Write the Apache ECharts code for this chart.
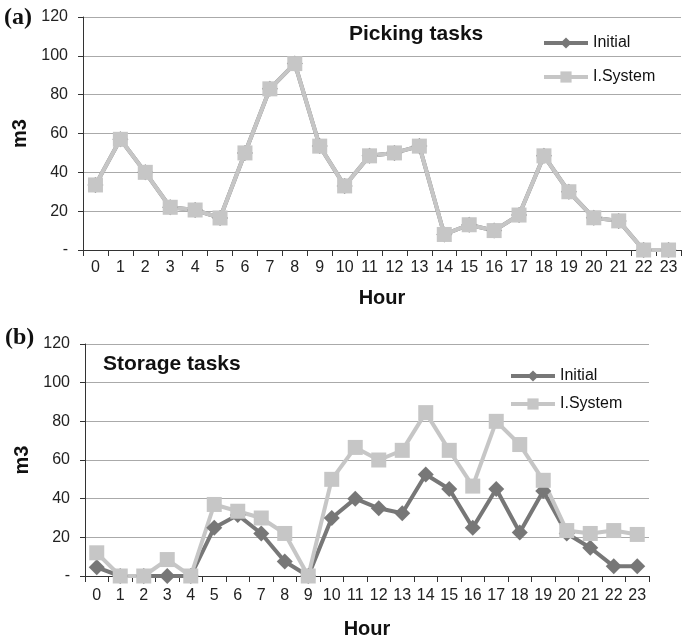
<!DOCTYPE html>
<html>
<head>
<meta charset="utf-8">
<script src="https://cdn.jsdelivr.net/npm/echarts@6/dist/echarts.min.js"></script>
<style>
  html, body { margin: 0; padding: 0; background: #fff; }
  #chart { width: 682px; height: 641px; }
</style>
</head>
<body>
<div id="chart"></div>
<script>
const hours = ['0','1','2','3','4','5','6','7','8','9','10','11','12','13','14','15','16','17','18','19','20','21','22','23'];

// (a) picking tasks - both series coincide
const pickInitial = [33.5, 57, 40, 22, 20.6, 16.5, 50, 83, 96, 53.5, 33, 48.5, 50, 53.5, 8, 13, 10, 18, 48.5, 30, 16.6, 15, 0, 0];
const pickSystem  = [33.5, 57, 40, 22, 20.6, 16.5, 50, 83, 96, 53.5, 33, 48.5, 50, 53.5, 8, 13, 10, 18, 48.5, 30, 16.6, 15, 0, 0];

// (b) storage tasks
const storeInitial = [4.5, 0, 0, 0, 0, 25, 31.6, 22, 7.5, 0, 30, 40, 35, 32.5, 52.5, 45, 25, 45, 22.5, 44, 22, 14.6, 5, 5];
const storeSystem  = [12, 0, 0, 8.5, 0, 37, 33.5, 30, 22, 0, 50, 66.5, 60, 65, 84.5, 65, 46.5, 80, 68, 49.5, 23.5, 22, 23.5, 21.5];

const darkGray = '#777777';
const lightGray = '#c6c6c6';
const font = 'Liberation Sans, Arial, sans-serif';

const chart = echarts.init(document.getElementById('chart'));

function xAxis(gridIndex, nameGap, labelMargin) {
  return {
    type: 'category',
    gridIndex: gridIndex,
    data: hours,
    name: 'Hour',
    nameLocation: 'middle',
    nameGap: nameGap,
    nameTextStyle: { fontFamily: font, fontSize: 20, fontWeight: 'bold', color: '#111' },
    axisLine: { lineStyle: { color: '#333', width: 1 } },
    axisTick: { show: true, length: 6, lineStyle: { color: '#333' } },
    axisLabel: { fontFamily: font, fontSize: 16, color: '#222', margin: labelMargin, interval: 0 }
  };
}

function yAxis(gridIndex, nameGap) {
  return {
    type: 'value',
    gridIndex: gridIndex,
    min: 0,
    max: 120,
    interval: 20,
    name: 'm3',
    nameLocation: 'middle',
    nameGap: nameGap,
    nameRotate: 90,
    nameTextStyle: { fontFamily: font, fontSize: 20, fontWeight: 'bold', color: '#111' },
    axisLine: { show: true, lineStyle: { color: '#333', width: 1 } },
    axisTick: { show: true, length: 5, lineStyle: { color: '#333' } },
    axisLabel: {
      fontFamily: font, fontSize: 16, color: '#222', margin: 15,
      formatter: v => (v === 0 ? '-' : v)
    },
    splitLine: { lineStyle: { color: '#aaa', width: 1 } }
  };
}

function lineSeries(name, data, idx, color, symbol, size) {
  return {
    name: name,
    type: 'line',
    xAxisIndex: idx,
    yAxisIndex: idx,
    data: data,
    color: color,
    symbol: symbol,
    symbolSize: size,
    showAllSymbol: true,
    lineStyle: { width: 4, color: color },
    itemStyle: { color: color },
    animation: false
  };
}

function legend(left, top, gap) {
  return {
    orient: 'vertical',
    left: left,
    top: top,
    itemWidth: 44,
    itemHeight: 14,
    itemGap: gap,
    lineStyle: { width: 4 },
    textStyle: { fontFamily: font, fontSize: 16, color: '#111' },
    data: ['Initial', 'I.System']
  };
}

chart.setOption({
  backgroundColor: '#fff',
  animation: false,
  grid: [
    { left: 83, top: 17, right: 1, bottom: 391 },
    { left: 85, top: 344, right: 33, bottom: 65 }
  ],
  xAxis: [xAxis(0, 38, 10), xAxis(1, 43, 12)],
  yAxis: [yAxis(0, 48), yAxis(1, 49)],
  legend: [legend(537, 30, 18), legend(504, 363, 12)],
  graphic: [
    { type: 'text', left: 4, top: 6, style: { text: '(a)', font: 'bold 24px "Liberation Serif", "Times New Roman", serif', fill: '#111' } },
    { type: 'text', left: 5, top: 326, style: { text: '(b)', font: 'bold 24px "Liberation Serif", "Times New Roman", serif', fill: '#111' } },
    { type: 'text', left: 349, top: 24, style: { text: 'Picking tasks', font: 'bold 21px "Liberation Sans", Arial, sans-serif', fill: '#111' } },
    { type: 'text', left: 103, top: 354, style: { text: 'Storage tasks', font: 'bold 21px "Liberation Sans", Arial, sans-serif', fill: '#111' } }
  ],
  series: [
    lineSeries('Initial', pickInitial, 0, darkGray, 'diamond', 16),
    lineSeries('I.System', pickSystem, 0, lightGray, 'rect', 15),
    lineSeries('Initial', storeInitial, 1, darkGray, 'diamond', 16),
    lineSeries('I.System', storeSystem, 1, lightGray, 'rect', 15)
  ]
});
</script>
</body>
</html>
